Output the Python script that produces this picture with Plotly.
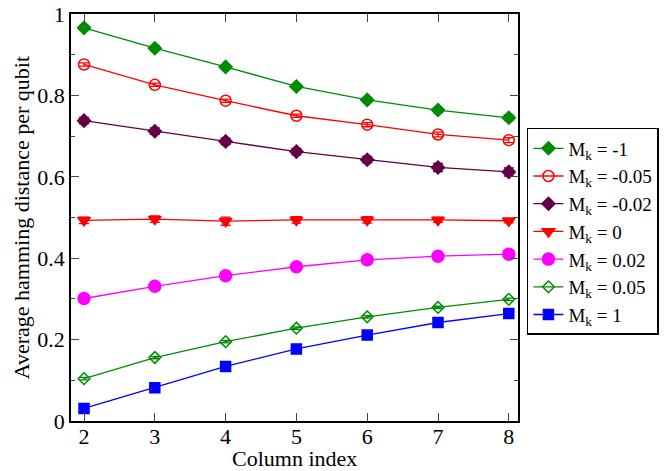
import plotly.graph_objects as go

x = [2, 3, 4, 5, 6, 7, 8]
labels = ["M<sub>k</sub> = -1", "M<sub>k</sub> = -0.05", "M<sub>k</sub> = -0.02",
          "M<sub>k</sub> = 0", "M<sub>k</sub> = 0.02", "M<sub>k</sub> = 0.05", "M<sub>k</sub> = 1"]
y_m1 = [0.966, 0.916, 0.870, 0.822, 0.789, 0.764, 0.745]
y_m005 = [0.876, 0.826, 0.787, 0.750, 0.728, 0.704, 0.690]
y_m002 = [0.738, 0.712, 0.687, 0.662, 0.642, 0.623, 0.612]
y_0 = [0.493, 0.496, 0.491, 0.494, 0.494, 0.494, 0.492]
y_p002 = [0.301, 0.331, 0.357, 0.379, 0.396, 0.405, 0.410]
y_p005 = [0.104, 0.156, 0.195, 0.228, 0.256, 0.279, 0.299]
y_1 = [0.031, 0.082, 0.134, 0.177, 0.211, 0.242, 0.264]
err_m1 = [0.006, 0.006, 0.005, 0.005, 0.006, 0.006, 0.007]
err_m005 = [0.004, 0.004, 0.004, 0.004, 0.005, 0.006, 0.006]
err_m002 = [0.008, 0.008, 0.008, 0.008, 0.008, 0.010, 0.010]
err_0 = [0.008, 0.008, 0.010, 0.008, 0.008, 0.006, 0.005]
err_p002 = [0.007, 0.007, 0.007, 0.006, 0.006, 0.006, 0.005]
err_p005 = [0.003, 0.003, 0.003, 0.003, 0.003, 0.003, 0.003]
err_1 = [0.003, 0.003, 0.003, 0.003, 0.003, 0.003, 0.003]
x_title = "Column index"
y_title = "Average hamming distance per qubit"

series = [y_m1, y_m005, y_m002, y_0, y_p002, y_p005, y_1]
errs = [err_m1, err_m005, err_m002, err_0, err_p002, err_p005, err_1]
colors = ["#008c00", "#ff0000", "#640046", "#ff0000", "#ff00ff", "#008c00", "#0000ff"]
symbols = ["diamond", "circle-open", "diamond", "triangle-down", "circle", "diamond-open", "square"]
sizes = [10, 11, 10, 11, 12, 9, 10]

fig = go.Figure()
for lab, ys, er, c, s, sz in zip(labels, series, errs, colors, symbols, sizes):
    fig.add_trace(go.Scatter(
        x=x, y=ys, name=lab, mode="lines+markers",
        line=dict(color=c, width=1.3),
        marker=dict(symbol=s, size=sz, color=c, line=dict(color=c, width=1.5)),
        error_y=dict(type="data", array=er, color=c, thickness=1.3, width=5),
    ))

font = "Liberation Serif, Times New Roman, serif"
fig.update_layout(
    width=670, height=471,
    margin=dict(l=71, r=152, t=14, b=50, autoexpand=False),
    paper_bgcolor="white", plot_bgcolor="white",
    font=dict(family=font, size=22, color="black"),
    showlegend=True,
    legend=dict(x=1.02, y=0.72, xanchor="left", yanchor="top",
                bordercolor="black", borderwidth=1.5, bgcolor="white",
                font=dict(family=font, size=19), tracegroupgap=0,
                itemwidth=30),
    annotations=[
        dict(text=x_title, xref="paper", yref="paper", x=0.5, y=-0.093,
             xanchor="center", yanchor="middle", showarrow=False, font=dict(size=22)),
        dict(text=y_title, xref="paper", yref="paper", x=-0.11, y=0.5,
             xanchor="center", yanchor="middle", textangle=-90, showarrow=False,
             font=dict(size=22)),
    ],
)
fig.update_xaxes(
    range=[1.816, 8.13], tickvals=x, ticks="inside", ticklen=8, tickwidth=1,
    showline=True, linecolor="black", linewidth=1.5, mirror="allticks",
    showgrid=False, zeroline=False, automargin=False, ticklabelstandoff=-5,
    tickfont=dict(size=22),
)
fig.update_yaxes(
    range=[0, 1], tickvals=[0, 0.2, 0.4, 0.6, 0.8, 1],
    ticktext=["0", "0.2", "0.4", "0.6", "0.8", "1"],
    ticks="inside", ticklen=8, tickwidth=1,
    minor=dict(tickvals=[0.1, 0.3, 0.5, 0.7, 0.9], ticks="inside", ticklen=4),
    showline=True, linecolor="black", linewidth=1.5, mirror="allticks",
    showgrid=False, zeroline=False, automargin=False,
    tickfont=dict(size=22),
)
fig.write_html("out.html")
